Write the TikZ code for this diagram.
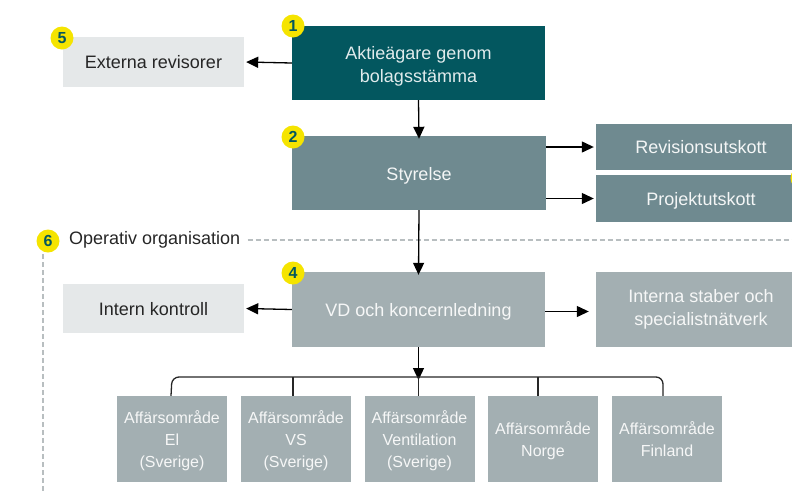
\documentclass[tikz,border=0pt]{standalone}
\usepackage{fontspec}
\setmainfont{Liberation Sans}
\usetikzlibrary{arrows.meta}
\definecolor{darkteal}{HTML}{03575F}
\definecolor{midteal}{HTML}{6F8A90}
\definecolor{lightteal}{HTML}{A3AFB2}
\definecolor{palegray}{HTML}{E5E8E9}
\definecolor{badgeyellow}{HTML}{F5E400}
\definecolor{dashgray}{HTML}{B8BEC0}
\newcommand{\boxtext}[2][-3pt]{\raisebox{#1}[\height][\depth]{\begin{tabular}{@{}c@{}}#2\end{tabular}}}
\begin{document}
\begin{tikzpicture}[x=1pt,y=-1pt,
  box/.style={draw=none,inner sep=0pt,align=center,font=\fontsize{18}{23}\selectfont},
  darkbox/.style={box,fill=darkteal,text=white!88!darkteal},
  midbox/.style={box,fill=midteal,text=white!92!midteal},
  lightbox/.style={box,fill=lightteal,text=white!90!lightteal},
  palebox/.style={box,fill=palegray,text=black!85},
  smallbox/.style={lightbox,font=\fontsize{16}{22}\selectfont,minimum width=110pt,minimum height=86pt},
  badge/.style={circle,fill=badgeyellow,inner sep=0pt,minimum size=23pt,text=darkteal,font=\bfseries\fontsize{16}{16}\selectfont},
  conn/.style={draw=black,line width=1.3pt,-{Triangle[length=12pt,width=11pt]}},
  bracket/.style={draw=black!85,line width=1.3pt,rounded corners=7pt},
  drop/.style={draw=black!85,line width=1.3pt},
  dashline/.style={draw=dashgray,line width=1.2pt,dash pattern=on 5pt off 3pt}
]
\useasboundingbox (0,0) rectangle (792,491);
\begin{scope}
\clip (0,0) rectangle (792,491);

% top level
\node[darkbox,minimum width=253pt,minimum height=74pt] (aktie) at (418.5,63) {\boxtext[-3.5pt]{Aktieägare genom\\bolagsstämma}};
\node[palebox,minimum width=181pt,minimum height=50pt] (extrev) at (153.5,62) {\boxtext[-2pt]{Externa revisorer}};

% board
\node[midbox,minimum width=254pt,minimum height=74pt] (styr) at (419,173) {\boxtext{Styrelse}};
\node[midbox,minimum width=210pt,minimum height=46pt] (revut) at (701,147) {\boxtext[-2pt]{Revisionsutskott}};
\node[midbox,minimum width=210pt,minimum height=47pt] (projut) at (701,198.5) {\boxtext[-2pt]{Projektutskott}};

% operative
\node[lightbox,minimum width=253pt,minimum height=75pt] (vd) at (418.5,309.5) {\boxtext[-2pt]{VD och koncernledning}};
\node[palebox,minimum width=181pt,minimum height=49pt] (intern) at (153.5,308.5) {\boxtext[-2.5pt]{Intern kontroll}};
\node[lightbox,minimum width=210pt,minimum height=75pt] (staber) at (701,309.5) {\boxtext[0pt]{Interna staber och\\specialistnätverk}};

% business areas
\node[smallbox] (a1) at (172,439) {\boxtext[-2.5pt]{Affärsområde\\El\\(Sverige)}};
\node[smallbox] (a2) at (296,439) {\boxtext[-2.5pt]{Affärsområde\\VS\\(Sverige)}};
\node[smallbox] (a3) at (419.5,439) {\boxtext[-2.5pt]{Affärsområde\\Ventilation\\(Sverige)}};
\node[smallbox] (a4) at (543,439) {\boxtext[-2.5pt]{Affärsområde\\Norge}};
\node[smallbox] (a5) at (667,439) {\boxtext[-2.5pt]{Affärsområde\\Finland}};

% operative dashed frame
\node[anchor=west,inner sep=0pt,font=\fontsize{18}{22}\selectfont,text=black!85] (optext) at (69,240) {Operativ organisation};
\coordinate (dashR) at (792,240);
\coordinate (dashB) at (43,491);
\draw[dashline] ([xshift=7pt]optext.east) -- (dashR);
\draw[dashline] (43,254) -- (dashB);

% connectors
\draw[conn] (aktie.west) -- ([xshift=2pt]extrev.east);
\draw[conn] (aktie.south) -- ([yshift=-3pt]styr.north);
\draw[conn] (styr.east |- revut.west) -- ([xshift=-2pt]revut.west);
\draw[conn] (styr.east |- projut.west) -- ([xshift=-2pt]projut.west);
\draw[conn] (styr.south) -- ([yshift=-3pt]vd.north);
\draw[conn] (vd.west) -- ([xshift=2pt]intern.east);
\draw[conn] ([yshift=-2pt]vd.east) -- ([yshift=-2pt,xshift=-7pt]staber.west);

\coordinate (bk) at (418.5,377);
\draw[conn] (vd.south) -- ([yshift=-3pt]bk);
\draw[bracket] ([xshift=-1pt]a1.north) -- (a1.north |- bk) -- ([xshift=-4pt]a5.north |- bk) -- ([xshift=-4pt]a5.north);
\draw[drop] ([xshift=-3pt]a2.north) -- ([xshift=-3pt]a2.north |- bk);
\draw[drop] ([xshift=-1pt]a3.north) -- ([xshift=-1pt]a3.north |- bk);
\draw[drop] ([xshift=-5pt]a4.north) -- ([xshift=-5pt]a4.north |- bk);

% badges
\node[badge] (b5) at (62,38) {5};
\node[badge] (b1) at (293,26) {1};
\node[badge] (b2) at (293,137) {2};
\node[badge] (b3) at (802,178) {};
\node[badge] (b4) at (293,273) {4};
\node[badge] (b6) at (48,241) {6};
\end{scope}
\end{tikzpicture}
\end{document}
